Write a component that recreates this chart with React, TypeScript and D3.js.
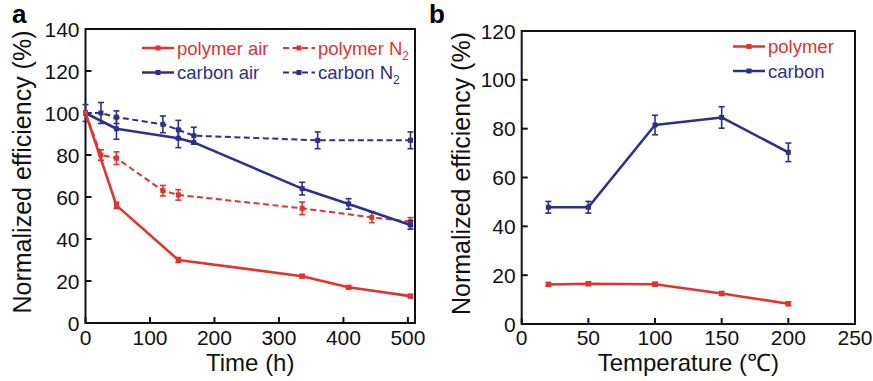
import React from "react";
import * as d3 from "d3";

// Panel a: efficiency vs. time
const polymerAirTime = [0, 48, 144, 336, 408, 504];
const polymerAirEff = [100, 56, 30, 22.3, 17, 12.8];
const polymerAirErr = [0, 1.5, 1.2, 0.8, 0.8, 0.8];

const polymerN2Time = [0, 24, 48, 120, 144, 336, 444, 504];
const polymerN2Eff = [100, 80, 78.5, 63, 61, 54.6, 50.3, 48.2];
const polymerN2Err = [0, 2.5, 3, 2.5, 2.5, 3, 2.5, 2];

const carbonAirTime = [0, 48, 144, 168, 336, 408, 504];
const carbonAirEff = [100, 92.5, 88, 86, 64, 56.7, 46.7];
const carbonAirErr = [0, 5, 4.5, 0, 3, 2.5, 2];

const carbonN2Time = [0, 24, 48, 120, 144, 168, 360, 504];
const carbonN2Eff = [100, 100, 98, 94.6, 92, 89.2, 87, 87];
const carbonN2Err = [4, 5, 3, 4, 4.5, 4, 4, 4];

const timeTicks = [0, 100, 200, 300, 400, 500];
const effTicksA = [0, 20, 40, 60, 80, 100, 120, 140];

// Panel b: efficiency vs. temperature
const temperature = [20, 50, 100, 150, 200];
const polymerTempEff = [16.2, 16.5, 16.3, 12.5, 8.3];
const polymerTempErr = [0.8, 0.8, 0.8, 0.8, 0.8];
const carbonTempEff = [47.8, 47.8, 81.5, 84.6, 70.3];
const carbonTempErr = [2.4, 2.4, 4, 4.4, 3.8];

const tempTicks = [0, 50, 100, 150, 200, 250];
const effTicksB = [0, 20, 40, 60, 80, 100, 120];

const RED = "#e2332d";
const BLUE = "#2c2f8e";
const FONT = "'Liberation Sans', Arial, Helvetica, sans-serif";

type Pt = { x: number; y: number; e: number };
const zip = (xs: number[], ys: number[], es: number[]): Pt[] =>
  xs.map((x, i) => ({ x, y: ys[i], e: es[i] }));

type Scale = d3.ScaleLinear<number, number>;

function Series({
  data, x, y, color, dashed, width,
}: { data: Pt[]; x: Scale; y: Scale; color: string; dashed?: boolean; width: number }) {
  const line = d3.line<Pt>().x((d) => x(d.x)).y((d) => y(d.y));
  return (
    <g>
      <path d={line(data) || ""} fill="none" stroke={color} strokeWidth={width}
        strokeDasharray={dashed ? "6,3.5" : undefined} strokeLinejoin="round" />
      {data.map((d, i) => (
        <g key={i}>
          {d.e > 0 && (
            <g stroke={color} strokeWidth={1.6}>
              <line x1={x(d.x)} x2={x(d.x)} y1={y(d.y - d.e)} y2={y(d.y + d.e)} />
              <line x1={x(d.x) - 3} x2={x(d.x) + 3} y1={y(d.y - d.e)} y2={y(d.y - d.e)} />
              <line x1={x(d.x) - 3} x2={x(d.x) + 3} y1={y(d.y + d.e)} y2={y(d.y + d.e)} />
            </g>
          )}
          <rect x={x(d.x) - 2.5} y={y(d.y) - 2.5} width={5} height={5} fill={color} />
        </g>
      ))}
    </g>
  );
}

function Axes({
  x, y, xTicks, yTicks, xTitle, yTitle, yTitleX,
}: {
  x: Scale; y: Scale; xTicks: number[]; yTicks: number[];
  xTitle: React.ReactNode; yTitle: string; yTitleX: number;
}) {
  const [x0, x1] = x.range();
  const [y0, y1] = y.range();
  return (
    <g fontFamily={FONT} fill="#111">
      <rect x={x0} y={y1} width={x1 - x0} height={y0 - y1} fill="none" stroke="#111" strokeWidth={2} />
      {xTicks.map((t) => (
        <g key={"x" + t}>
          <line x1={x(t)} x2={x(t)} y1={y0} y2={y0 - 6} stroke="#111" strokeWidth={2} />
          <text x={x(t)} y={345} fontSize={21} textAnchor="middle">{t}</text>
        </g>
      ))}
      {yTicks.map((t) => (
        <g key={"y" + t}>
          <line x1={x0} x2={x0 + 6} y1={y(t)} y2={y(t)} stroke="#111" strokeWidth={2} />
          <text x={x0 - 6} y={y(t) + 7.5} fontSize={21} textAnchor="end">{t}</text>
        </g>
      ))}
      <text x={(x0 + x1) / 2} y={371} fontSize={24} textAnchor="middle">{xTitle}</text>
      <text transform={`translate(${yTitleX},${(y0 + y1) / 2 - 4}) rotate(-90)`} fontSize={25}
        textAnchor="middle">{yTitle}</text>
    </g>
  );
}

function LegendItem({
  x, y, color, dashed, label, sub,
}: { x: number; y: number; color: string; dashed?: boolean; label: string; sub?: string }) {
  return (
    <g>
      <line x1={x} x2={x + 32} y1={y} y2={y} stroke={color} strokeWidth={dashed ? 2 : 2.5}
        strokeDasharray={dashed ? "6,3.5" : undefined} />
      <rect x={x + 13.5} y={y - 2.5} width={5} height={5} fill={color} />
      <text x={x + 35} y={y + 6.5} fontSize={18.5} fontFamily={FONT} fill={color}>
        {label}
        {sub && <tspan fontSize={12} dy={5}>{sub}</tspan>}
      </text>
    </g>
  );
}

export default function App() {
  const xa = d3.scaleLinear().domain([0, 511]).range([85.5, 415]);
  const ya = d3.scaleLinear().domain([0, 140]).range([323, 29]);
  const xb = d3.scaleLinear().domain([0, 250]).range([521.7, 855]);
  const yb = d3.scaleLinear().domain([0, 120]).range([324, 31]);

  return (
    <svg width={873} height={381} style={{ position: "absolute", left: 0, top: 0, background: "#fff" }}>
      {/* panel a */}
      <text x={12} y={23} fontSize={26} fontWeight="bold" fontFamily={FONT}>a</text>
      <Axes x={xa} y={ya} xTicks={timeTicks} yTicks={effTicksA} xTitle="Time (h)"
        yTitle="Normalized efficiency (%)" yTitleX={31} />
      <Series data={zip(carbonN2Time, carbonN2Eff, carbonN2Err)} x={xa} y={ya} color={BLUE} dashed width={2} />
      <Series data={zip(polymerN2Time, polymerN2Eff, polymerN2Err)} x={xa} y={ya} color={RED} dashed width={2} />
      <Series data={zip(carbonAirTime, carbonAirEff, carbonAirErr)} x={xa} y={ya} color={BLUE} width={2.6} />
      <Series data={zip(polymerAirTime, polymerAirEff, polymerAirErr)} x={xa} y={ya} color={RED} width={2.6} />
      <LegendItem x={142} y={48} color={RED} label="polymer air" />
      <LegendItem x={283} y={48} color={RED} dashed label="polymer N" sub="2" />
      <LegendItem x={142} y={72.5} color={BLUE} label="carbon air" />
      <LegendItem x={283} y={72.5} color={BLUE} dashed label="carbon N" sub="2" />

      {/* panel b */}
      <text x={429} y={23} fontSize={26} fontWeight="bold" fontFamily={FONT}>b</text>
      <Axes x={xb} y={yb} xTicks={tempTicks} yTicks={effTicksB} xTitle="Temperature (℃)"
        yTitle="Normalized efficiency (%)" yTitleX={470} />
      <Series data={zip(temperature, carbonTempEff, carbonTempErr)} x={xb} y={yb} color={BLUE} width={2.6} />
      <Series data={zip(temperature, polymerTempEff, polymerTempErr)} x={xb} y={yb} color={RED} width={2.6} />
      <LegendItem x={733} y={46.5} color={RED} label="polymer" />
      <LegendItem x={733} y={71} color={BLUE} label="carbon" />
    </svg>
  );
}
